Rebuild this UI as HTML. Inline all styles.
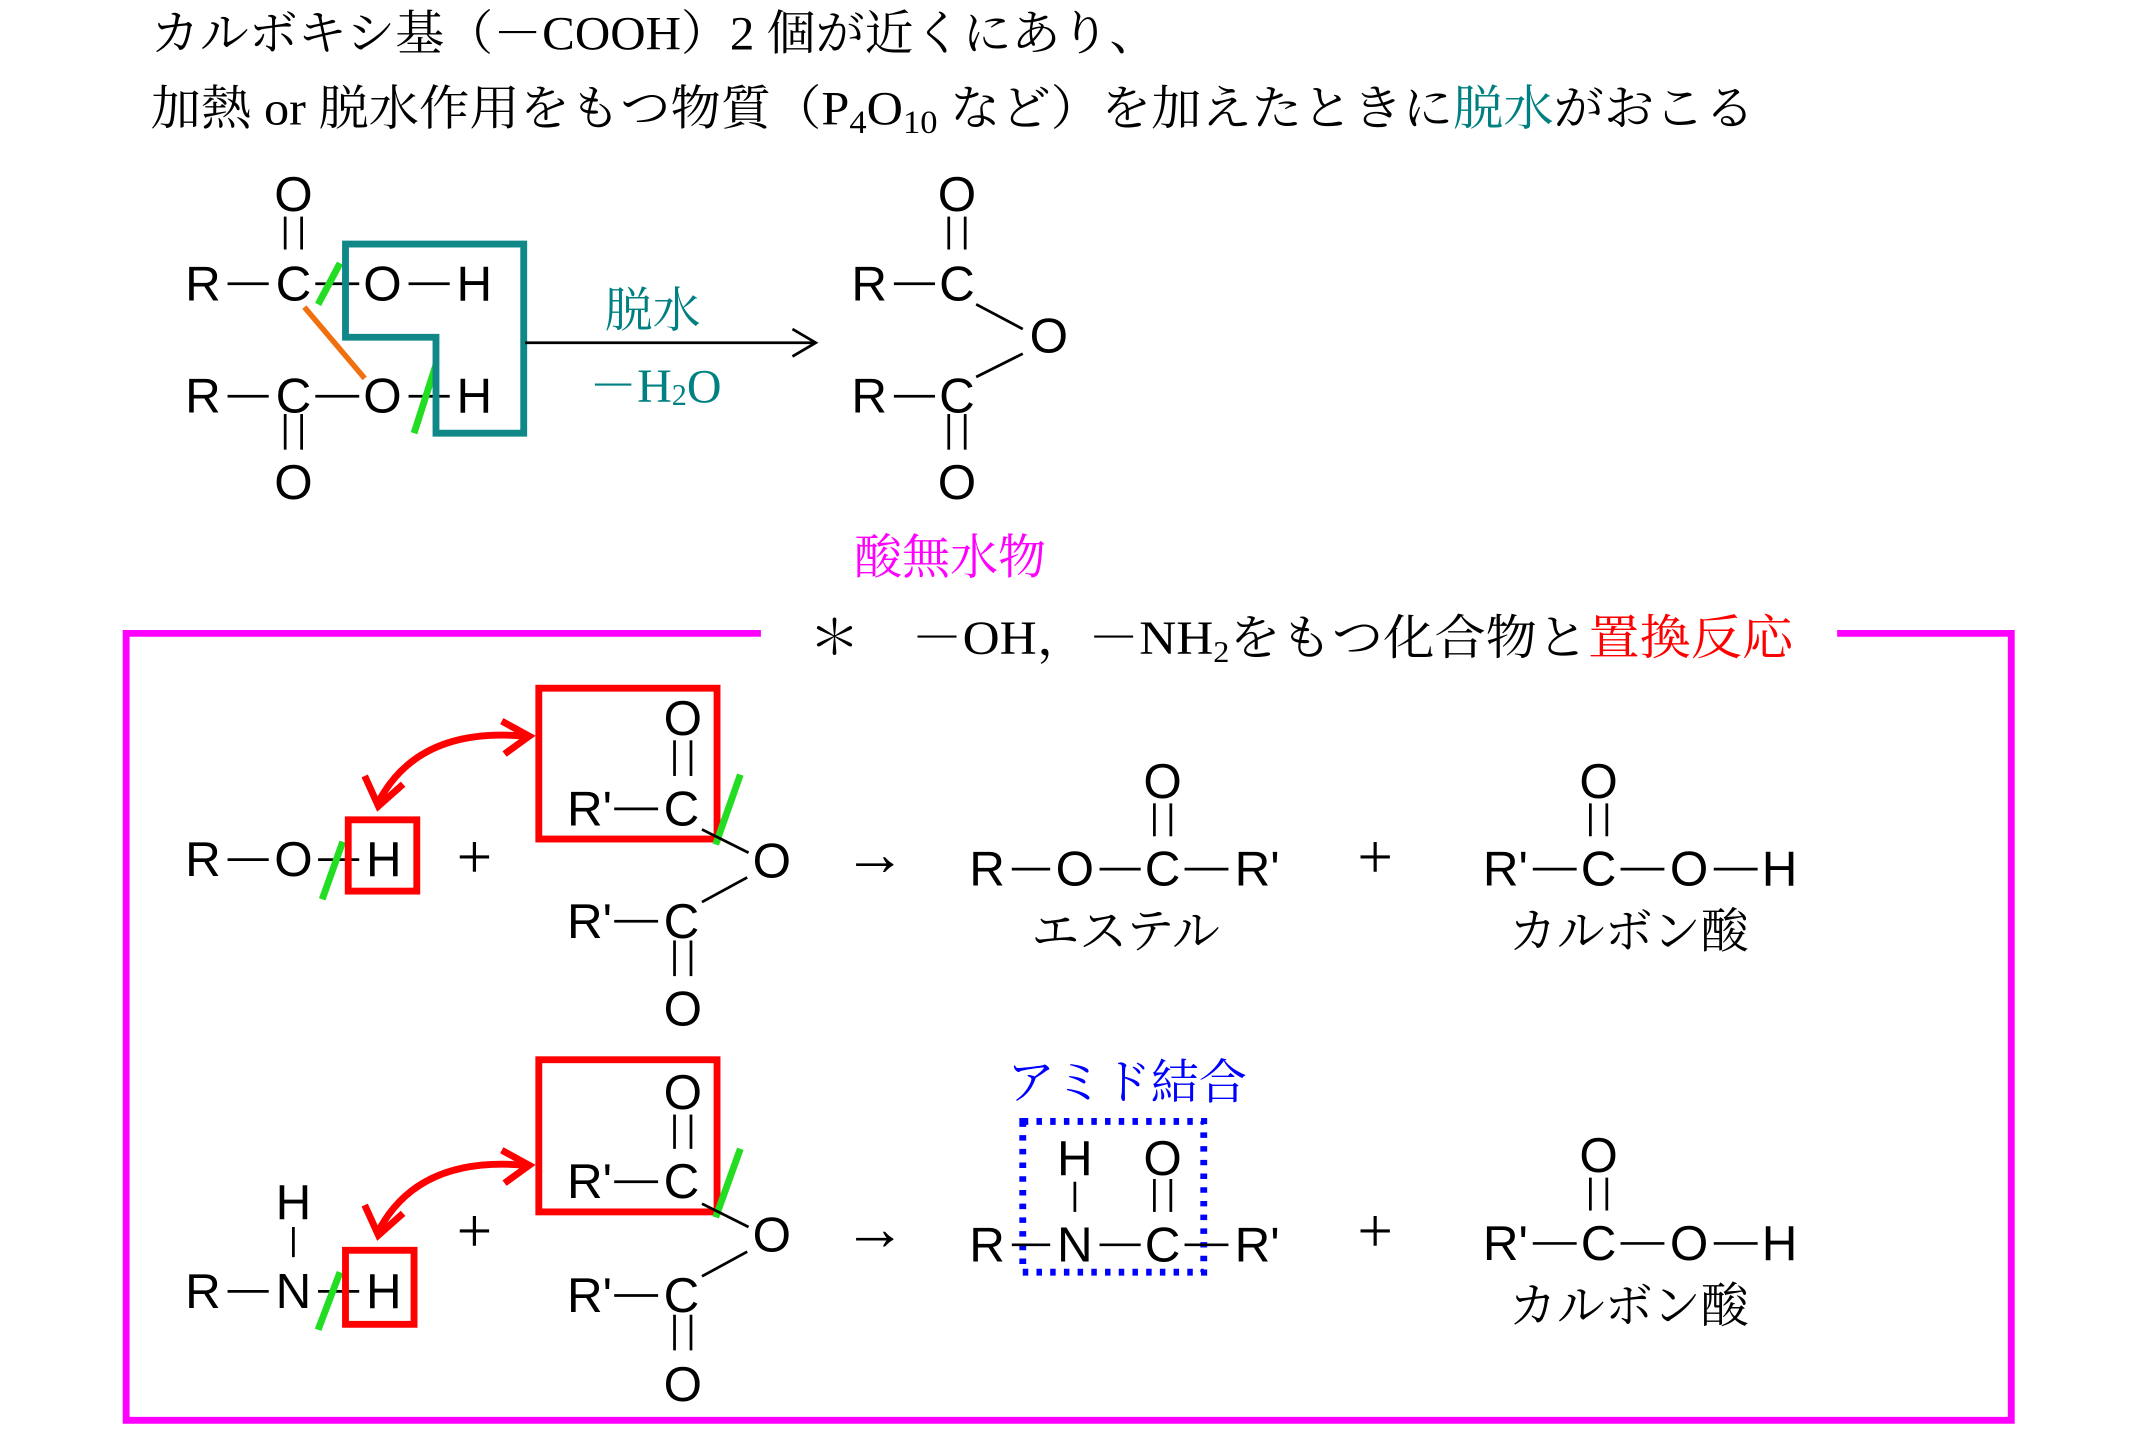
<!DOCTYPE html>
<html><head><meta charset="utf-8"><style>
html,body{margin:0;padding:0;background:#fff;}
svg{display:block;}
.a{font-family:"Liberation Sans",sans-serif;font-size:36px;text-anchor:middle;dominant-baseline:central;fill:#000;}
.j{font-family:"Liberation Serif","Noto Serif CJK SC",serif;font-size:35px;}
.jc{font-family:"Liberation Serif","Noto Serif CJK SC",serif;font-size:35px;text-anchor:middle;dominant-baseline:central;}
.op{font-family:"Liberation Serif","Noto Serif CJK SC",serif;font-size:46px;text-anchor:middle;dominant-baseline:central;}
line,polyline,path,rect,polygon{fill:none;}
.b{stroke:#000;stroke-width:2;}
.g{stroke:#22dd22;stroke-width:5;}
.r{stroke:#f00;stroke-width:5;}
</style></head><body>
<svg width="2147" height="1434" viewBox="0 0 1566 1046" preserveAspectRatio="none" xmlns="http://www.w3.org/2000/svg">
<text class="j" x="110" y="36" textLength="735" lengthAdjust="spacingAndGlyphs">カルボキシ基（－COOH）2 個が近くにあり、</text>
<text class="j" x="110" y="91" textLength="1170" lengthAdjust="spacingAndGlyphs">加熱 or 脱水作用をもつ物質（P<tspan font-size="24" dy="6">4</tspan><tspan dy="-6">O</tspan><tspan font-size="24" dy="6">10</tspan><tspan dy="-6"> など）を加えたときに</tspan><tspan fill="#008080">脱水</tspan>がおこる</text>

<!-- top left -->
<text class="a" x="214" y="142">O</text>
<line class="b" x1="208" y1="158" x2="208" y2="182"/><line class="b" x1="220" y1="158" x2="220" y2="182"/>
<text class="a" x="148" y="207">R</text><line class="b" x1="166" y1="207" x2="196" y2="207"/>
<text class="a" x="214" y="207">C</text><line class="b" x1="230" y1="207" x2="262" y2="207"/>
<text class="a" x="279" y="207">O</text><line class="b" x1="298" y1="207" x2="328" y2="207"/>
<text class="a" x="346" y="207">H</text>
<text class="a" x="148" y="289">R</text><line class="b" x1="166" y1="289" x2="196" y2="289"/>
<text class="a" x="214" y="289">C</text><line class="b" x1="230" y1="289" x2="262" y2="289"/>
<text class="a" x="279" y="289">O</text><line class="b" x1="298" y1="289" x2="328" y2="289"/>
<text class="a" x="346" y="289">H</text>
<line class="b" x1="208" y1="302" x2="208" y2="328"/><line class="b" x1="220" y1="302" x2="220" y2="328"/>
<text class="a" x="214" y="352">O</text>
<line x1="222" y1="224" x2="266" y2="276" stroke="#f07010" stroke-width="4"/>
<line class="g" x1="232" y1="222" x2="248" y2="192"/>
<line class="g" x1="302" y1="316" x2="318" y2="266"/>
<polygon points="252,178 382,178 382,316 318,316 318,246 252,246" stroke="#108888" stroke-width="5"/>
<line class="b" x1="383" y1="250" x2="595" y2="250"/>
<polyline class="b" points="578,240 595,250 578,260"/>
<text class="jc" x="476" y="227" fill="#008080">脱水</text>
<text class="jc" x="478" y="282" fill="#008080">－H<tspan font-size="22" dy="6">2</tspan><tspan dy="-6">O</tspan></text>

<!-- anhydride -->
<text class="a" x="698" y="142">O</text>
<line class="b" x1="692" y1="158" x2="692" y2="182"/><line class="b" x1="704" y1="158" x2="704" y2="182"/>
<text class="a" x="634" y="207">R</text><line class="b" x1="652" y1="207" x2="682" y2="207"/>
<text class="a" x="698" y="207">C</text>
<line class="b" x1="712" y1="222" x2="746" y2="240"/>
<text class="a" x="765" y="245">O</text>
<line class="b" x1="746" y1="258" x2="712" y2="275"/>
<text class="a" x="634" y="289">R</text><line class="b" x1="652" y1="289" x2="682" y2="289"/>
<text class="a" x="698" y="289">C</text>
<line class="b" x1="692" y1="302" x2="692" y2="328"/><line class="b" x1="704" y1="302" x2="704" y2="328"/>
<text class="a" x="698" y="352">O</text>
<text class="jc" x="693" y="407" fill="#ff00ff">酸無水物</text>

<!-- magenta box -->
<polyline points="555,462 92,462 92,1036 1467,1036 1467,462 1340,462" stroke="#ff00ff" stroke-width="5"/>
<text class="j" x="590" y="477" textLength="718" lengthAdjust="spacingAndGlyphs">＊　－OH，－NH<tspan font-size="22" dy="6">2</tspan><tspan dy="-6">をもつ化合物と</tspan><tspan fill="#ff0000">置換反応</tspan></text>

<!-- row1 -->
<text class="a" x="148" y="627">R</text><line class="b" x1="166" y1="627" x2="196" y2="627"/>
<text class="a" x="214" y="627">O</text><line class="b" x1="232" y1="627" x2="262" y2="627"/>
<line class="g" x1="235" y1="656" x2="250" y2="614"/>
<rect class="r" x="254" y="598" width="50" height="52"/>
<text class="a" x="280" y="627">H</text>
<text class="op" x="346" y="625">+</text>
<rect class="r" x="393" y="502" width="130" height="110"/>
<text class="a" x="498" y="524">O</text>
<line class="b" x1="492" y1="540" x2="492" y2="566"/><line class="b" x1="504" y1="540" x2="504" y2="566"/>
<text class="a" x="430" y="590">R'</text><line class="b" x1="448" y1="590" x2="480" y2="590"/>
<text class="a" x="497" y="590">C</text>
<line class="g" x1="522" y1="616" x2="540" y2="565"/>
<line class="b" x1="512" y1="605" x2="546" y2="622"/>
<text class="a" x="563" y="628">O</text>
<line class="b" x1="545" y1="640" x2="512" y2="658"/>
<text class="a" x="430" y="672">R'</text><line class="b" x1="448" y1="672" x2="480" y2="672"/>
<text class="a" x="497" y="672">C</text>
<line class="b" x1="492" y1="686" x2="492" y2="712"/><line class="b" x1="504" y1="686" x2="504" y2="712"/>
<text class="a" x="498" y="736">O</text>
<path d="M383,537 Q305,530 276,585" stroke="#f00" stroke-width="5"/>
<polyline points="266,566 276,588 294,572" stroke="#f00" stroke-width="5"/>
<polyline points="366,526 386,537 368,550" stroke="#f00" stroke-width="5"/>
<text class="op" x="638" y="623">→</text>
<text class="a" x="848" y="570">O</text>
<line class="b" x1="842" y1="586" x2="842" y2="610"/><line class="b" x1="854" y1="586" x2="854" y2="610"/>
<text class="a" x="720" y="634">R</text><line class="b" x1="738" y1="634" x2="766" y2="634"/>
<text class="a" x="784" y="634">O</text><line class="b" x1="802" y1="634" x2="832" y2="634"/>
<text class="a" x="848" y="634">C</text><line class="b" x1="864" y1="634" x2="896" y2="634"/>
<text class="a" x="917" y="634">R'</text>
<text class="jc" x="821" y="680">エステル</text>
<text class="op" x="1003" y="625">+</text>
<text class="a" x="1166" y="570">O</text>
<line class="b" x1="1160" y1="586" x2="1160" y2="610"/><line class="b" x1="1172" y1="586" x2="1172" y2="610"/>
<text class="a" x="1098" y="634">R'</text><line class="b" x1="1118" y1="634" x2="1150" y2="634"/>
<text class="a" x="1166" y="634">C</text><line class="b" x1="1182" y1="634" x2="1214" y2="634"/>
<text class="a" x="1232" y="634">O</text><line class="b" x1="1250" y1="634" x2="1282" y2="634"/>
<text class="a" x="1298" y="634">H</text>
<text class="jc" x="1188" y="680">カルボン酸</text>

<!-- row2 -->
<text class="a" x="214" y="877">H</text>
<line class="b" x1="214" y1="895" x2="214" y2="917"/>
<text class="a" x="148" y="942">R</text><line class="b" x1="166" y1="942" x2="196" y2="942"/>
<text class="a" x="214" y="942">N</text><line class="b" x1="232" y1="942" x2="262" y2="942"/>
<line class="g" x1="232" y1="970" x2="248" y2="928"/>
<rect class="r" x="252" y="912" width="50" height="54"/>
<text class="a" x="280" y="942">H</text>
<text class="op" x="346" y="898">+</text>
<rect class="r" x="393" y="773" width="130" height="111"/>
<text class="a" x="498" y="797">O</text>
<line class="b" x1="492" y1="813" x2="492" y2="838"/><line class="b" x1="504" y1="813" x2="504" y2="838"/>
<text class="a" x="430" y="862">R'</text><line class="b" x1="448" y1="862" x2="480" y2="862"/>
<text class="a" x="497" y="862">C</text>
<line class="g" x1="522" y1="888" x2="540" y2="838"/>
<line class="b" x1="512" y1="878" x2="546" y2="895"/>
<text class="a" x="563" y="901">O</text>
<line class="b" x1="545" y1="913" x2="512" y2="931"/>
<text class="a" x="430" y="945">R'</text><line class="b" x1="448" y1="945" x2="480" y2="945"/>
<text class="a" x="497" y="945">C</text>
<line class="b" x1="492" y1="959" x2="492" y2="985"/><line class="b" x1="504" y1="959" x2="504" y2="985"/>
<text class="a" x="498" y="1010">O</text>
<path d="M383,850 Q305,843 276,898" stroke="#f00" stroke-width="5"/>
<polyline points="266,879 276,901 294,885" stroke="#f00" stroke-width="5"/>
<polyline points="366,839 386,850 368,863" stroke="#f00" stroke-width="5"/>
<text class="op" x="638" y="896">→</text>
<text class="jc" x="822" y="790" fill="#0000ff">アミド結合</text>
<rect x="746" y="818" width="132" height="110" stroke="#0000ff" stroke-width="5" stroke-dasharray="4,6"/>
<text class="a" x="784" y="845">H</text>
<line class="b" x1="784" y1="862" x2="784" y2="884"/>
<text class="a" x="848" y="845">O</text>
<line class="b" x1="842" y1="860" x2="842" y2="884"/><line class="b" x1="854" y1="860" x2="854" y2="884"/>
<text class="a" x="720" y="908">R</text><line class="b" x1="738" y1="908" x2="766" y2="908"/>
<text class="a" x="784" y="908">N</text><line class="b" x1="802" y1="908" x2="832" y2="908"/>
<text class="a" x="848" y="908">C</text><line class="b" x1="864" y1="908" x2="896" y2="908"/>
<text class="a" x="917" y="908">R'</text>
<text class="op" x="1003" y="898">+</text>
<text class="a" x="1166" y="843">O</text>
<line class="b" x1="1160" y1="859" x2="1160" y2="883"/><line class="b" x1="1172" y1="859" x2="1172" y2="883"/>
<text class="a" x="1098" y="907">R'</text><line class="b" x1="1118" y1="907" x2="1150" y2="907"/>
<text class="a" x="1166" y="907">C</text><line class="b" x1="1182" y1="907" x2="1214" y2="907"/>
<text class="a" x="1232" y="907">O</text><line class="b" x1="1250" y1="907" x2="1282" y2="907"/>
<text class="a" x="1298" y="907">H</text>
<text class="jc" x="1188" y="953">カルボン酸</text>
</svg>
</body></html>
